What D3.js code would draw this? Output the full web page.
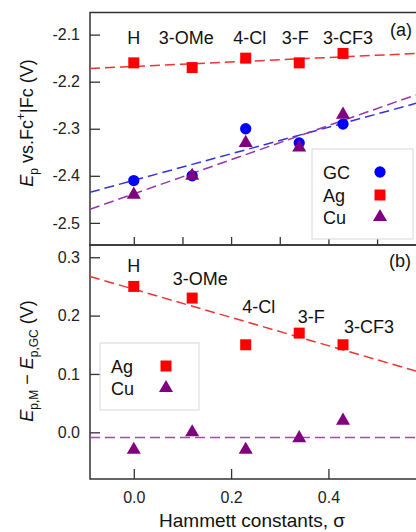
<!DOCTYPE html>
<html>
<head>
<meta charset="utf-8">
<script src="https://cdn.jsdelivr.net/npm/d3@7"></script>
<style>
  body { margin: 0; background: #fff; }
  svg { display: block; font-family: "Liberation Sans", Arial, sans-serif; }
  .tick text { font-size: 16px; fill: #222; }
  .tick line { stroke: #333; stroke-width: 1.3; }
</style>
</head>
<body>
<div id="chart"></div>
<script>
// substituents and their Hammett constants
const substituents = ["H", "3-OMe", "4-Cl", "3-F", "3-CF3"];
const sigma = [0, 0.12, 0.23, 0.34, 0.43];

// panel (a): peak potentials vs Fc+|Fc (V)
const epGC = [-2.41, -2.40, -2.30, -2.33, -2.29];
const epAg = [-2.16, -2.17, -2.15, -2.16, -2.14];
const epCu = [-2.44, -2.40, -2.33, -2.34, -2.27];

// panel (b): shift relative to GC (V)
const dAg = [0.25, 0.23, 0.15, 0.17, 0.15];
const dCu = [-0.03, 0.00, -0.03, -0.01, 0.02];

// fitted lines, values at the left and right edge of the sigma range
const fitEnds = [-0.09, 0.58];
const fitA_GC = [-2.435, -2.246];
const fitA_Ag = [-2.172, -2.140];
const fitA_Cu = [-2.471, -2.228];
const fitB_Ag = [0.267, 0.105];
const fitB_Cu = [-0.009, -0.009];

const ticksA = [-2.1, -2.2, -2.3, -2.4, -2.5];
const ticksB = [0.0, 0.1, 0.2, 0.3];
const xTicksA = [0, 0.1, 0.2, 0.3, 0.4, 0.5];
const xTicksB = [0, 0.2, 0.4];

const W = 416, H = 532;
const left = 90, right = 416;
const topA = 12.5, midY = 245, botB = 479;

const red = "#ff0000", blue = "#0000ff", purple = "#800080";

const svg = d3.select("#chart").append("svg")
  .attr("width", W).attr("height", H);

const x = d3.scaleLinear().domain([-0.09, 0.58]).range([left, right]);
const yA = d3.scaleLinear().domain([-2.547, -2.053]).range([midY, topA]);
const yB = d3.scaleLinear().domain([-0.08, 0.321]).range([botB, midY]);

// axes
svg.append("g")
   .attr("transform", `translate(${left},0)`)
   .call(d3.axisLeft(yA).tickValues(ticksA).tickSize(-10).tickPadding(10)
           .tickFormat(d => d.toFixed(1)))
   .call(g => g.select(".domain").remove());

svg.append("g")
   .attr("transform", `translate(${left},0)`)
   .call(d3.axisLeft(yB).tickValues(ticksB).tickSize(-10).tickPadding(10)
           .tickFormat(d => d.toFixed(1)))
   .call(g => g.select(".domain").remove());

svg.append("g")
   .attr("transform", `translate(0,${midY})`)
   .call(d3.axisBottom(x).tickValues(xTicksA).tickSize(-8).tickFormat(""))
   .call(g => g.select(".domain").remove());

svg.append("g")
   .attr("transform", `translate(0,${botB})`)
   .call(d3.axisBottom(x).tickValues(xTicksB).tickSize(-10).tickPadding(12.5)
           .tickFormat(d => d.toFixed(1)))
   .call(g => g.select(".domain").remove());

// frames
const frame = svg.append("g").attr("fill", "none").attr("stroke", "#333").attr("stroke-width", 1.5);
frame.append("rect").attr("x", left).attr("y", topA).attr("width", right - left + 10).attr("height", midY - topA);
frame.append("rect").attr("x", left).attr("y", midY).attr("width", right - left + 10).attr("height", botB - midY);

// dashed fit lines
function fitLine(y, vals, color) {
  svg.append("line")
     .attr("x1", x(fitEnds[0])).attr("y1", y(vals[0]))
     .attr("x2", x(fitEnds[1])).attr("y2", y(vals[1]))
     .attr("stroke", color).attr("stroke-width", 1.5)
     .attr("stroke-dasharray", "10,5");
}
fitLine(yA, fitA_Ag, "#ee3333");
fitLine(yA, fitA_GC, "#3333dd");
fitLine(yA, fitA_Cu, "#9933aa");
fitLine(yB, fitB_Ag, "#ee3333");
fitLine(yB, fitB_Cu, "#aa44bb");

// markers
const sym = {
  circle: d3.symbol().type(d3.symbolCircle).size(100),
  square: d3.symbol().type(d3.symbolSquare).size(121),
  triangle: d3.symbol().type(d3.symbolTriangle).size(85)
};

function points(y, vals, shape, color) {
  svg.append("g").selectAll("path")
     .data(vals)
     .enter()
     .append("path")
     .attr("d", sym[shape])
     .attr("transform", (d, i) => `translate(${x(sigma[i])},${y(d)})`)
     .attr("fill", color);
}
points(yA, epAg, "square", red);
points(yA, epGC, "circle", blue);
points(yA, epCu, "triangle", purple);
points(yB, dAg, "square", red);
points(yB, dCu, "triangle", purple);

// substituent labels
const labA_dx = [0, -6, 4, -4, 5];
const labB_dx = [0, 8, 13, 12, 26];
const labB_dy = [-14, -13, -32, -10, -12];

svg.append("g").selectAll("text")
   .data(substituents)
   .enter()
   .append("text")
   .attr("x", (d, i) => x(sigma[i]) + labA_dx[i])
   .attr("y", 44)
   .attr("text-anchor", "middle")
   .style("font-size", "18px").attr("fill", "#111")
   .text(d => d);

svg.append("g").selectAll("text")
   .data(substituents)
   .enter()
   .append("text")
   .attr("x", (d, i) => x(sigma[i]) + labB_dx[i])
   .attr("y", (d, i) => yB(dAg[i]) + labB_dy[i])
   .attr("text-anchor", "middle")
   .style("font-size", "18px").attr("fill", "#111")
   .text(d => d);

svg.append("text").attr("x", 401).attr("y", 36).attr("text-anchor", "middle")
   .style("font-size", "18px").attr("fill", "#111").text("(a)");
svg.append("text").attr("x", 400).attr("y", 267).attr("text-anchor", "middle")
   .style("font-size", "18px").attr("fill", "#111").text("(b)");

// legends
function legend(x0, y0, w, h, entries) {
  const g = svg.append("g");
  g.append("rect").attr("x", x0).attr("y", y0).attr("width", w).attr("height", h)
   .attr("fill", "#fff").attr("stroke", "#d8d8d8").attr("stroke-width", 1);
  entries.forEach(e => {
    g.append("text").attr("x", x0 + 11).attr("y", e.cy + 6.5)
     .style("font-size", "18px").attr("fill", "#111").text(e.name);
    g.append("path").attr("d", sym[e.shape])
     .attr("transform", `translate(${e.mx},${e.cy})`).attr("fill", e.color);
  });
}
legend(312, 149, 101, 90, [
  {name: "GC", shape: "circle", color: blue, cy: 172, mx: 380},
  {name: "Ag", shape: "square", color: red, cy: 195, mx: 380},
  {name: "Cu", shape: "triangle", color: purple, cy: 217, mx: 380}
]);
legend(100, 343, 99, 67, [
  {name: "Ag", shape: "square", color: red, cy: 366, mx: 166},
  {name: "Cu", shape: "triangle", color: purple, cy: 388, mx: 166}
]);

// axis titles
svg.append("text")
   .attr("x", 252).attr("y", 527).attr("text-anchor", "middle")
   .style("font-size", "19px").attr("fill", "#111")
   .text("Hammett constants, σ");

const tA = svg.append("text")
   .attr("transform", "translate(33,123) rotate(-90)")
   .attr("text-anchor", "middle")
   .style("font-size", "18px").attr("fill", "#111");
tA.append("tspan").style("font-style", "italic").text("E");
tA.append("tspan").attr("dy", 5).style("font-size", "12px").text("p");
tA.append("tspan").attr("dy", -5).text(" vs.Fc");
tA.append("tspan").attr("dy", -8).style("font-size", "12px").text("+");
tA.append("tspan").attr("dy", 8).text("|Fc (V)");

const tB = svg.append("text")
   .attr("transform", "translate(33,361) rotate(-90)")
   .attr("text-anchor", "middle")
   .style("font-size", "18px").attr("fill", "#111");
tB.append("tspan").style("font-style", "italic").text("E");
tB.append("tspan").attr("dy", 5).style("font-size", "12px").text("p,M");
tB.append("tspan").attr("dy", -5).text(" − ");
tB.append("tspan").style("font-style", "italic").text("E");
tB.append("tspan").attr("dy", 5).style("font-size", "12px").text("p,GC");
tB.append("tspan").attr("dy", -5).text(" (V)");
</script>
</body>
</html>
